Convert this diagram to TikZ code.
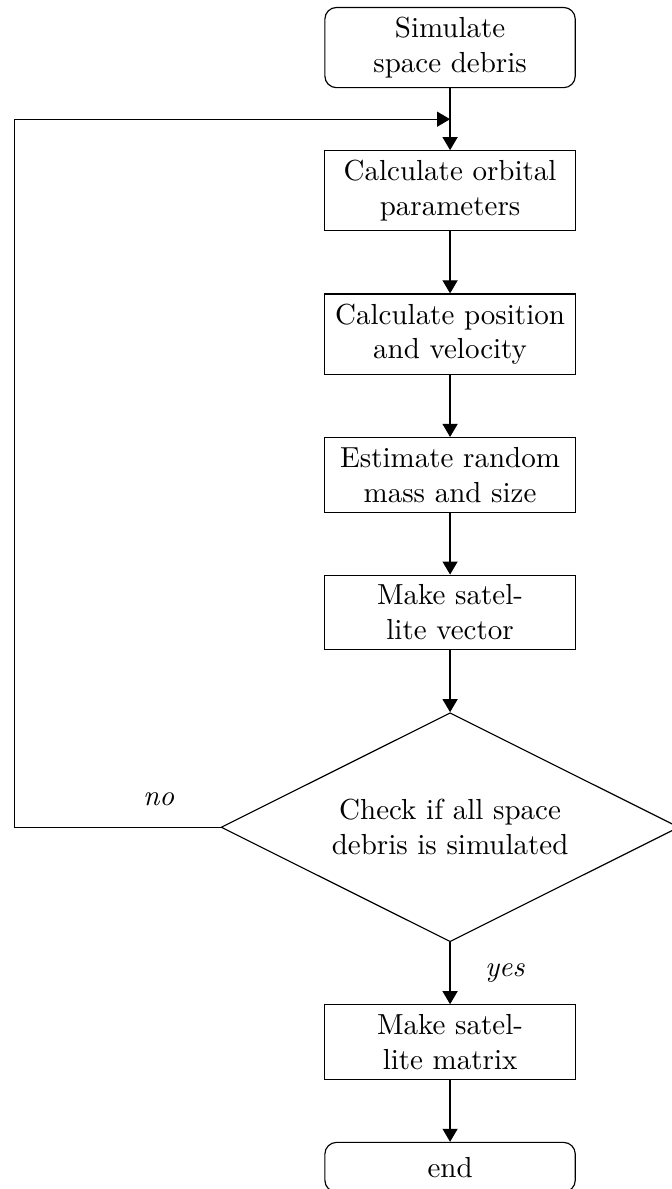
\documentclass[tikz,border=0pt]{standalone}
\usepackage{tikz}
\usetikzlibrary{shapes.geometric, arrows.meta, positioning}
\tikzstyle{startstop} = [rectangle,rounded corners,draw,text width=2.8cm,minimum height=0.6cm,text centered]
\tikzstyle{process} = [rectangle,draw,text width=2.8cm,text centered]
\tikzstyle{decision} = [diamond,draw,aspect=2,text width=3.5cm,text centered]
\tikzstyle{arrow} = [-{Triangle[length=4.5pt,width=5.2pt]}]

\begin{document}
\begin{tikzpicture}[node distance=0.75cm]
		\useasboundingbox (-155.2pt,-393.6pt) rectangle (76.2pt,16.4pt);
		\node [startstop](sim){Simulate space debris};
		\node [process,below=of sim](orbit){Calculate orbital parameters};
		\node [process,below=of orbit](posvel){Calculate position and velocity};
		\node [process,below=of posvel](mass){Estimate random mass and size};
		\node [process,below=of mass](vec){Make satellite vector};
		\node [decision,below=of vec](check){Check if all space debris is simulated};
		\node [process,below=of check](mat){Make satellite matrix};
		\node [startstop,below=of mat](fin){end};
		\path (sim)--coordinate[midway](loop)(orbit);
		\coordinate [left=2.5cm of check.west](back);
		
		\draw[arrow](sim)--(orbit);
		\draw[arrow](orbit)--(posvel);
		\draw[arrow](posvel)--(mass);
		\draw[arrow](mass)--(vec);
		\draw[arrow](vec)--(check);
		\draw[arrow](check)--node[right=0.3cm]{\textit{yes}}(mat);
		\draw[arrow](mat)--(fin);
		\draw[arrow](check.west)--node[above,pos=0.3,yshift=4pt]{\textit{no}}(back)|-(loop);
		\end{tikzpicture}
\end{document}
